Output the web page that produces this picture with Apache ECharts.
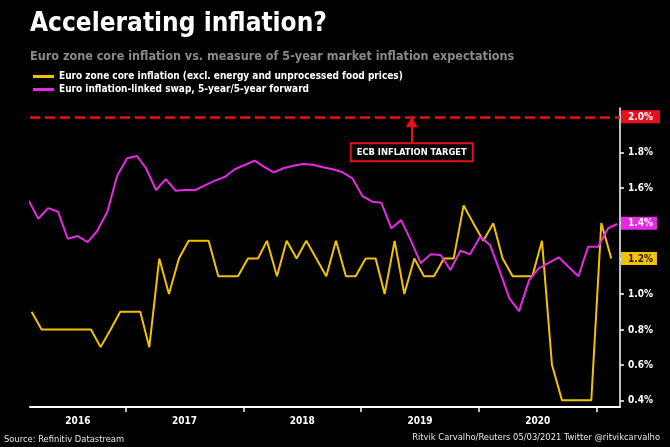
<!DOCTYPE html>
<html>
<head>
<meta charset="utf-8">
<script src="https://cdn.jsdelivr.net/npm/echarts@6/dist/echarts.min.js"></script>
<style>
html,body{margin:0;padding:0;background:#000;}
#chart{width:670px;height:447px;}
</style>
</head>
<body>
<div id="chart"></div>
<script>
// ---- data ----
const months = [
  '2016-03','2016-04','2016-05','2016-06','2016-07','2016-08','2016-09','2016-10','2016-11','2016-12',
  '2017-01','2017-02','2017-03','2017-04','2017-05','2017-06','2017-07','2017-08','2017-09','2017-10','2017-11','2017-12',
  '2018-01','2018-02','2018-03','2018-04','2018-05','2018-06','2018-07','2018-08','2018-09','2018-10','2018-11','2018-12',
  '2019-01','2019-02','2019-03','2019-04','2019-05','2019-06','2019-07','2019-08','2019-09','2019-10','2019-11','2019-12',
  '2020-01','2020-02','2020-03','2020-04','2020-05','2020-06','2020-07','2020-08','2020-09','2020-10','2020-11','2020-12',
  '2021-01','2021-02','2021-03'
];
// Euro zone core inflation (excl. energy and unprocessed food prices), %
const coreInflation = [
  0.9,0.8,0.8,0.8,0.8,0.8,0.8,0.7,0.8,0.9,
  0.9,0.9,0.7,1.2,1.0,1.2,1.3,1.3,1.3,1.1,1.1,1.1,
  1.2,1.2,1.3,1.1,1.3,1.2,1.3,1.2,1.1,1.3,1.1,1.1,
  1.2,1.2,1.0,1.3,1.0,1.2,1.1,1.1,1.2,1.2,1.5,1.4,
  1.3,1.4,1.2,1.1,1.1,1.1,1.3,0.6,0.4,0.4,0.4,0.4,
  1.4,1.2,null
];
// Euro inflation-linked swap, 5-year/5-year forward, %
const swap5y5y = [
  1.53,1.425,1.485,1.464,1.312,1.327,1.293,1.357,1.464,1.666,
  1.766,1.779,1.71,1.587,1.648,1.583,1.587,1.587,1.615,1.64,1.662,1.704,
  1.728,1.753,1.719,1.687,1.71,1.724,1.734,1.73,1.715,1.704,1.687,1.653,
  1.553,1.521,1.515,1.371,1.417,1.30,1.173,1.225,1.22,1.135,1.244,1.224,
  1.323,1.276,1.135,0.975,0.903,1.078,1.144,1.176,1.207,1.154,1.10,1.266,
  1.266,1.371,1.395
];
const coreDay = 15;   // monthly inflation prints plotted mid-month
const swapDay = 5;    // swap observation day within month
const years = [2016, 2017, 2018, 2019, 2020];
const yTicks = [0.4, 0.6, 0.8, 1.0, 1.2, 1.4, 1.6, 1.8, 2.0];
const axisStart = '2016-03-10';
const axisEnd = '2021-03-14';
const ecbTarget = 2.0;
const ecbLabel = 'ECB INFLATION TARGET';
const ecbLabelDate = '2019-06-07';
const ecbLabelValue = 1.8;

const names = [
  'Euro zone core inflation (excl. energy and unprocessed food prices)',
  'Euro inflation-linked swap, 5-year/5-year forward'
];

// ---- helpers ----
function ts(s, day) {
  const p = s.split('-').map(Number);
  return new Date(p[0], p[1] - 1, day != null ? day : (p[2] || 1)).getTime();
}
const minT = ts(axisStart);
const maxT = ts(axisEnd);
const coreData = months.map((m, i) => [ts(m, coreDay), coreInflation[i]]).filter(d => d[1] != null);
const swapData = months.map((m, i) => [ts(m, swapDay), swap5y5y[i]]);
const yearStarts = years.slice(1).concat([years[years.length - 1] + 1]).map(y => new Date(y, 0, 1).getTime());
const yearMids = years.map(y => {
  const a = Math.max(new Date(y, 0, 1).getTime(), minT);
  const b = Math.min(new Date(y + 1, 0, 1).getTime(), maxT);
  return (a + b) / 2;
});

const FF = "'Liberation Sans Narrow', 'DejaVu Sans Condensed', Lato, sans-serif";
const YEL = '#f2c200';
const MAG = '#e62ae6';
const RED = '#e8101a';

const chart = echarts.init(document.getElementById('chart'), null, {renderer: 'canvas'});
const option = {
  backgroundColor: '#000',
  animation: false,
  textStyle: {fontFamily: FF},
  title: [
    {text: 'Accelerating inflation?', left: 30, top: 11, padding: 0,
     textStyle: {color: '#fff', fontSize: 26, fontWeight: 'bold', fontFamily: FF}},
    {text: 'Euro zone core inflation vs. measure of 5-year market inflation expectations', left: 30, top: 50, padding: 0,
     textStyle: {color: '#8a8a8a', fontSize: 12.5, fontWeight: 'bold', fontFamily: FF}},
    {text: 'Source: Refinitiv Datastream', left: 4, top: 435, padding: 0,
     textStyle: {color: '#e6e6e6', fontSize: 9.3, fontWeight: 'normal', fontFamily: FF}},
    {text: 'Ritvik Carvalho/Reuters 05/03/2021 Twitter @ritvikcarvalho', right: 10, top: 433, padding: 0,
     textStyle: {color: '#e6e6e6', fontSize: 9.3, fontWeight: 'normal', fontFamily: FF}}
  ],
  legend: {
    left: 33, top: 70, orient: 'vertical', itemGap: 0, padding: 0,
    icon: 'rect', itemWidth: 21, itemHeight: 3,
    textStyle: {color: '#fff', fontSize: 10, fontWeight: 'bold', lineHeight: 13, fontFamily: FF},
    data: names
  },
  grid: {left: 30, right: 50, top: 108, bottom: 40},
  xAxis: {
    type: 'value', min: minT, max: maxT,
    splitLine: {show: false},
    axisLine: {show: true, lineStyle: {color: '#fff', width: 2}},
    axisTick: {show: true, customValues: yearStarts, length: 5, lineStyle: {color: '#fff', width: 1.5}},
    axisLabel: {
      show: true, customValues: yearMids, margin: 9,
      color: '#fff', fontSize: 10, fontWeight: 'bold', fontFamily: FF,
      formatter: v => String(new Date(v).getFullYear())
    }
  },
  yAxis: {
    type: 'value', position: 'right', min: 0.362, max: 2.05,
    splitLine: {show: false},
    axisLine: {show: true, lineStyle: {color: '#fff', width: 1.5}},
    axisTick: {show: true, customValues: yTicks, length: 4, lineStyle: {color: '#fff', width: 1.5}},
    axisLabel: {
      show: true, customValues: yTicks, margin: 1,
      formatter: v => {
        const t = v.toFixed(1) + '%';
        if (Math.abs(v - 2.0) < 1e-6) return '{r|' + t + '}';
        if (Math.abs(v - 1.4) < 1e-6) return '{m|' + t + '}';
        if (Math.abs(v - 1.2) < 1e-6) return '{y|' + t + '}';
        return '{w|' + t + '}';
      },
      rich: {
        w: {color: '#fff', fontSize: 10, fontWeight: 'bold', fontFamily: FF, padding: [2, 5, 1, 7]},
        r: {color: '#fff', fontSize: 10, fontWeight: 'bold', fontFamily: FF, padding: [2, 7, 1, 7], backgroundColor: RED},
        m: {color: '#fff', fontSize: 10, fontWeight: 'bold', fontFamily: FF, padding: [2, 4, 1, 7], backgroundColor: MAG},
        y: {color: '#222', fontSize: 10, fontWeight: 'bold', fontFamily: FF, padding: [2, 4, 1, 7], backgroundColor: YEL}
      }
    }
  },
  series: [
    {
      name: names[0], type: 'line', data: coreData, showSymbol: false, symbol: 'none',
      lineStyle: {color: YEL, width: 2}, itemStyle: {color: YEL}, z: 3
    },
    {
      name: names[1], type: 'line', data: swapData, showSymbol: false, symbol: 'none',
      lineStyle: {color: MAG, width: 2}, itemStyle: {color: MAG}, z: 4,
      markLine: {
        silent: true, animation: false,
        symbol: ['none', 'none'],
        label: {show: false},
        data: [
          {yAxis: ecbTarget, lineStyle: {color: RED, type: [10, 5], width: 2.5}},
          [
            {coord: [ts(ecbLabelDate), ecbLabelValue + 0.05], symbol: 'none', lineStyle: {color: RED, type: 'solid', width: 2}},
            {coord: [ts(ecbLabelDate), ecbTarget - 0.03], symbol: 'triangle', symbolSize: [12, 10]}
          ]
        ]
      },
      markPoint: {
        silent: true, animation: false,
        data: [{
          coord: [ts(ecbLabelDate), ecbLabelValue],
          symbol: 'circle', symbolSize: 1,
          itemStyle: {color: 'rgba(0,0,0,0)'},
          label: {
            show: true, position: 'inside', formatter: ecbLabel,
            color: '#fff', fontSize: 9.3, fontWeight: 'bold', fontFamily: FF,
            backgroundColor: '#000', borderColor: RED, borderWidth: 2,
            padding: [4, 5, 3, 5]
          }
        }]
      }
    }
  ]
};
chart.setOption(option);
</script>
</body>
</html>
